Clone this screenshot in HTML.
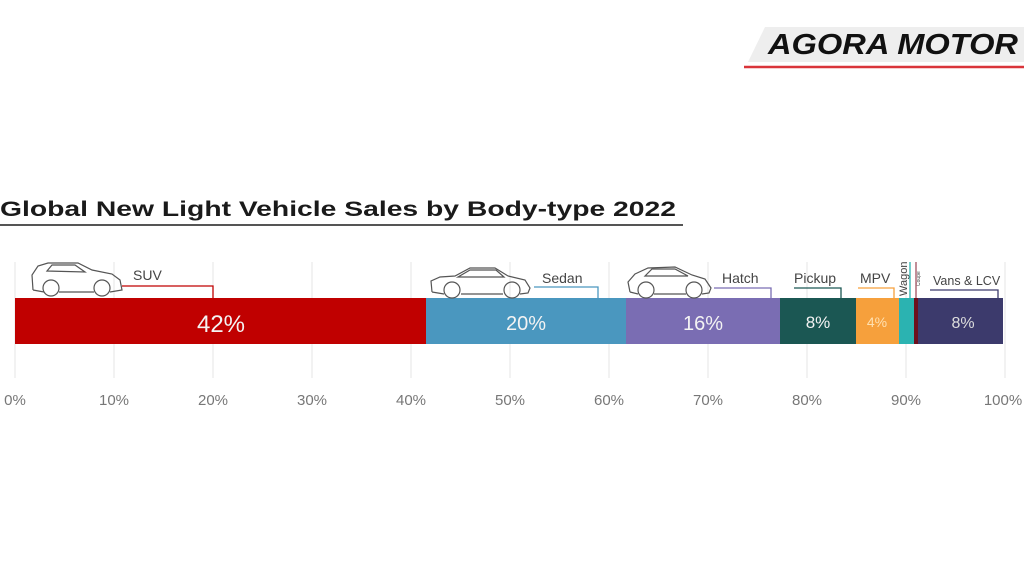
<!DOCTYPE html>
<html><head><meta charset="utf-8"><style>
html,body{margin:0;padding:0;background:#fff;}
svg{display:block;font-family:"Liberation Sans",sans-serif;}
</style></head><body>
<svg width="1024" height="576" viewBox="0 0 1024 576" xmlns="http://www.w3.org/2000/svg">
<rect width="1024" height="576" fill="#fff"/>
<!-- logo -->
<polygon points="765,27 1024,27 1024,62 748,62" fill="#eeeeee"/>
<text x="768" y="54" font-size="29" font-weight="bold" font-style="italic" fill="#111" textLength="250" lengthAdjust="spacingAndGlyphs">AGORA MOTOR</text>
<line x1="744" y1="67" x2="1024" y2="67" stroke="#d9343a" stroke-width="2.5"/>
<!-- title -->
<text x="0" y="216" font-size="21.5" font-weight="bold" fill="#1a1a1a" textLength="676" lengthAdjust="spacingAndGlyphs">Global New Light Vehicle Sales by Body-type 2022</text>
<line x1="0" y1="225" x2="683" y2="225" stroke="#555" stroke-width="2"/>
<!-- grid -->
<g stroke="#e6e6e6" stroke-width="1">
<line x1="15" y1="262" x2="15" y2="378"/><line x1="114" y1="262" x2="114" y2="378"/><line x1="213" y1="262" x2="213" y2="378"/><line x1="312" y1="262" x2="312" y2="378"/><line x1="411" y1="262" x2="411" y2="378"/><line x1="510" y1="262" x2="510" y2="378"/><line x1="609" y1="262" x2="609" y2="378"/><line x1="708" y1="262" x2="708" y2="378"/><line x1="807" y1="262" x2="807" y2="378"/><line x1="906" y1="262" x2="906" y2="378"/><line x1="1005" y1="262" x2="1005" y2="378"/>
</g>
<g font-size="15" fill="#777" text-anchor="middle">
<text x="15" y="405">0%</text><text x="114" y="405">10%</text><text x="213" y="405">20%</text><text x="312" y="405">30%</text><text x="411" y="405">40%</text><text x="510" y="405">50%</text><text x="609" y="405">60%</text><text x="708" y="405">70%</text><text x="807" y="405">80%</text><text x="906" y="405">90%</text><text x="1003" y="405">100%</text>
</g>
<!-- bars -->
<rect x="15" y="298" width="411" height="46" fill="#c00000"/>
<rect x="426" y="298" width="200" height="46" fill="#4a97bf"/>
<rect x="626" y="298" width="154" height="46" fill="#7a6db3"/>
<rect x="780" y="298" width="76" height="46" fill="#1b5753"/>
<rect x="856" y="298" width="43" height="46" fill="#f6a03c"/>
<rect x="899" y="298" width="15" height="46" fill="#2bb3b1"/>
<rect x="914" y="298" width="4" height="46" fill="#6e0f1c"/>
<rect x="918" y="298" width="85" height="46" fill="#3c3a6c"/>
<g fill="#f3f3f3" text-anchor="middle">
<text x="221" y="332" font-size="24">42%</text>
<text x="526" y="330" font-size="20">20%</text>
<text x="703" y="330" font-size="20">16%</text>
<text x="818" y="328" font-size="17">8%</text>
<text x="877" y="327" font-size="14" fill="#ffe0b0">4%</text>
<text x="963" y="328" font-size="16" fill="#ddd">8%</text>
</g>
<!-- labels and connectors -->
<g font-size="14" fill="#444">
<text x="133" y="280">SUV</text>
<text x="542" y="283">Sedan</text>
<text x="722" y="283">Hatch</text>
<text x="794" y="283">Pickup</text>
<text x="860" y="283">MPV</text>
<text x="933" y="285" font-size="12.5">Vans &amp; LCV</text>
<text transform="translate(907,296) rotate(-90)" font-size="11">Wagon</text>
<text transform="translate(920,286) rotate(-90)" font-size="5">Coupe</text>
</g>
<g fill="none" stroke-width="1.3">
<polyline points="122,286 213,286 213,298" stroke="#c00000"/>
<polyline points="534,287 598,287 598,298" stroke="#4a97bf"/>
<polyline points="714,288 771,288 771,298" stroke="#7a6db3"/>
<polyline points="794,288 841,288 841,298" stroke="#1b5753"/>
<polyline points="858,288 894,288 894,298" stroke="#f6a03c"/>
<line x1="910" y1="262" x2="910" y2="298" stroke="#2bb3b1"/>
<line x1="916" y1="262" x2="916" y2="298" stroke="#a05060"/>
<polyline points="930,290 998,290 998,298" stroke="#3c3a6c"/>
</g>
<!-- cars -->
<g fill="none" stroke="#555" stroke-width="1.2">
<!-- SUV -->
<path d="M33,290 L32,275 L38,266 L48,263 L78,263 L92,270 L112,274 L120,280 L122,290 L110,292 M94,292 L59,292 M44,292 L33,290"/>
<path d="M47,271 L52,265 L75,265 L85,272 Z"/>
<circle cx="51" cy="288" r="8"/><circle cx="102" cy="288" r="8"/>
<!-- Sedan -->
<path d="M432,292 L431,281 L440,277 L455,276 L470,268 L495,268 L508,276 L525,280 L530,288 L528,293 L520,294 M503,294 L461,294 M444,294 L432,292"/>
<path d="M458,277 L470,270 L496,270 L504,277 Z"/>
<circle cx="452" cy="290" r="8"/><circle cx="512" cy="290" r="8"/>
<!-- Hatch -->
<path d="M630,292 L628,282 L635,274 L648,268 L675,267 L692,275 L705,279 L711,288 L709,293 L702,294 M686,294 L654,294 M638,294 L630,292"/>
<path d="M645,276 L652,269 L675,269 L688,276 Z"/>
<circle cx="646" cy="290" r="8"/><circle cx="694" cy="290" r="8"/>
</g>
</svg>
</body></html>
